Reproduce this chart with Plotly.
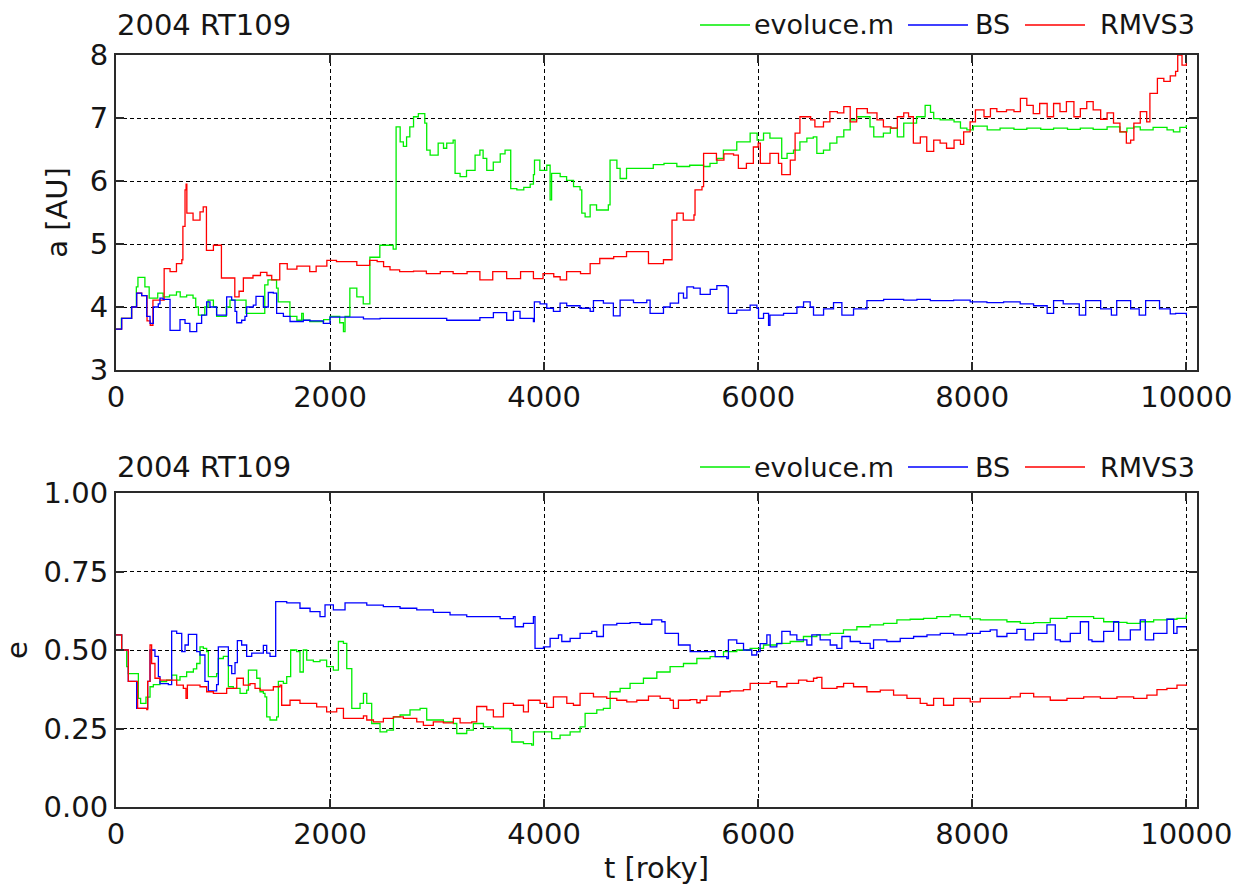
import plotly.graph_objects as go

# ---- semi-major axis a [AU] ----
evol_a_t = [0, 50, 145, 190, 205, 270, 310, 390, 440, 500, 565, 600, 660, 720, 745, 770, 830, 860, 910, 940,
            1030, 1065, 1140, 1215, 1390, 1420, 1500, 1515, 1625, 1690, 1735, 1750, 1810, 1940, 2000, 2090, 2125,
            2140, 2185, 2250, 2310, 2372, 2465, 2590, 2617, 2655, 2685, 2715, 2745, 2780, 2825, 2885, 2903, 2935,
            3010, 3060, 3090, 3150, 3168, 3215, 3275, 3355, 3400, 3430, 3464, 3525, 3590, 3635, 3688, 3745, 3810,
            3870, 3900, 3910, 3960, 4025, 4056, 4070, 4150, 4210, 4275, 4336, 4352, 4383, 4430, 4490, 4600, 4616,
            4680, 4710, 4770, 4900, 5020, 5120, 5240, 5360, 5490, 5550, 5615, 5675, 5800, 5925, 5990, 6050, 6110,
            6220, 6270, 6330, 6390, 6455, 6515, 6548, 6610, 6670, 6735, 6800, 6860, 6920, 7045, 7080, 7170, 7235,
            7300, 7360, 7480, 7560, 7610, 7640, 7700, 7830, 7890, 7950, 8010, 8140, 8260, 8390, 8510, 8640, 8760,
            8890, 9010, 9130, 9260, 9380, 9445, 9510, 9570, 9690, 9820, 9880, 9940, 10000]
evol_a = [3.65, 3.82, 4.0, 4.32, 4.47, 4.32, 4.14, 4.22, 4.16, 4.19, 4.24, 4.16, 4.19, 4.14, 4.0, 3.87, 4.0, 4.11,
          4.0, 3.85, 4.0, 4.11, 4.11, 3.9, 4.35, 4.43, 4.3, 4.08, 3.85, 3.79, 3.9, 3.79, 3.77, 3.8, 3.85, 3.75, 3.61,
          3.85, 4.3, 4.16, 4.05, 4.79, 4.98, 4.92, 6.86, 6.62, 6.55, 6.7, 6.86, 7.02, 7.07, 6.92, 6.49, 6.41, 6.6,
          6.52, 6.6, 6.65, 6.12, 6.07, 6.17, 6.41, 6.49, 6.36, 6.17, 6.3, 6.43, 6.49, 5.88, 5.86, 5.9, 5.95, 6.1,
          6.33, 6.17, 6.25, 5.7, 6.12, 6.07, 6.01, 5.91, 5.86, 5.49, 5.43, 5.62, 5.54, 5.62, 6.33, 6.2, 6.04, 6.2,
          6.2, 6.26, 6.28, 6.23, 6.25, 6.23, 6.28, 6.36, 6.49, 6.62, 6.76, 6.65, 6.76, 6.68, 6.36, 6.44, 6.49, 6.62,
          6.68, 6.7, 6.44, 6.49, 6.6, 6.7, 6.81, 6.97, 7.02, 6.86, 6.7, 6.76, 6.84, 6.7, 6.92, 7.02, 7.2, 7.09,
          6.99, 6.97, 6.94, 6.84, 6.81, 6.87, 6.81, 6.84, 6.82, 6.84, 6.82, 6.84, 6.82, 6.84, 6.82, 6.86, 6.78,
          6.84, 6.86, 6.81, 6.85, 6.81, 6.78, 6.85, 6.89]

bs_a_t = [0, 53, 146, 193, 240, 287, 318, 349, 395, 411, 440, 505, 598, 645, 690, 754, 800, 847, 878, 940, 1034,
          1081, 1112, 1128, 1174, 1205, 1221, 1283, 1308, 1377, 1423, 1470, 1501, 1564, 1626, 1750, 1813, 1937,
          2000, 2125, 2312, 2467, 2780, 3090, 3400, 3526, 3650, 3713, 3775, 3900, 3909, 3962, 4025, 4087, 4149,
          4211, 4336, 4430, 4461, 4554, 4647, 4710, 4835, 4959, 4990, 5115, 5178, 5256, 5302, 5334, 5396, 5458,
          5552, 5614, 5707, 5720, 5800, 5925, 5988, 6003, 6050, 6097, 6110, 6237, 6362, 6424, 6486, 6517, 6611,
          6704, 6782, 6891, 7016, 7172, 7359, 7483, 7608, 7826, 7981, 8137, 8293, 8448, 8573, 8700, 8760, 8850,
          9000, 9060, 9200, 9300, 9350, 9480, 9560, 9620, 9750, 9850, 9900, 10000]
bs_a = [3.65, 3.82, 4.0, 4.22, 4.18, 3.85, 3.74, 4.0, 4.05, 4.14, 4.12, 3.63, 3.8, 3.74, 3.61, 3.74, 3.87, 4.08,
        4.0, 3.87, 4.16, 4.11, 3.93, 3.75, 3.79, 3.85, 4.0, 4.03, 4.17, 4.0, 4.23, 4.22, 3.9, 3.85, 3.77, 3.79,
        3.78, 3.74, 3.84, 3.84, 3.81, 3.82, 3.82, 3.79, 3.83, 3.91, 3.79, 3.93, 3.82, 3.77, 4.08, 4.05, 3.98, 3.93,
        4.06, 4.02, 3.98, 3.93, 4.1, 4.06, 3.86, 4.11, 4.07, 4.11, 3.9, 4.0, 4.06, 4.22, 4.14, 4.32, 4.3, 4.2,
        4.28, 4.34, 4.32, 3.9, 3.95, 4.03, 3.98, 3.82, 3.9, 3.71, 3.87, 3.9, 4.0, 4.08, 4.0, 3.87, 3.97, 4.07,
        3.87, 3.97, 4.1, 4.12, 4.11, 4.12, 4.1, 4.11, 4.08, 4.07, 4.08, 4.05, 4.02, 3.9, 4.1, 4.05, 3.87, 4.1,
        3.97, 3.87, 4.1, 3.97, 3.87, 4.1, 3.97, 3.89, 3.9, 3.87]

rmvs_a_t = [0, 53, 146, 193, 240, 290, 320, 345, 450, 505, 565, 615, 625, 645, 655, 662, 720, 785, 815, 845, 910,
            985, 1110, 1150, 1190, 1280, 1350, 1410, 1455, 1530, 1600, 1690, 1810, 1870, 1970, 2060, 2250, 2370,
            2440, 2500, 2560, 2650, 2780, 2900, 3030, 3150, 3280, 3400, 3520, 3650, 3780, 3900, 3990, 4090, 4150,
            4210, 4340, 4430, 4520, 4650, 4770, 4900, 4975, 5115, 5195, 5240, 5300, 5400, 5410, 5475, 5490, 5610,
            5680, 5770, 5815, 5890, 5955, 6000, 6020, 6110, 6190, 6220, 6300, 6345, 6390, 6490, 6530, 6610, 6670,
            6740, 6800, 6860, 6920, 7020, 7110, 7170, 7240, 7300, 7360, 7405, 7450, 7515, 7575, 7640, 7700, 7760,
            7830, 7890, 7920, 7980, 8030, 8110, 8170, 8230, 8320, 8390, 8450, 8510, 8570, 8630, 8700, 8760, 8820,
            8880, 8950, 9010, 9070, 9130, 9200, 9260, 9320, 9380, 9440, 9480, 9510, 9570, 9630, 9660, 9730, 9790,
            9850, 9900, 9920, 9960, 10000]
rmvs_a = [3.65, 3.82, 4.0, 4.22, 4.18, 3.78, 3.71, 4.11, 4.61, 4.56, 4.69, 4.75, 5.28, 5.86, 5.95, 5.49, 5.38,
          5.51, 5.59, 4.9, 4.98, 4.46, 4.16, 4.25, 4.46, 4.5, 4.55, 4.5, 4.43, 4.69, 4.6, 4.65, 4.56, 4.65, 4.74,
          4.72, 4.66, 4.74, 4.72, 4.64, 4.59, 4.56, 4.57, 4.53, 4.56, 4.53, 4.56, 4.43, 4.56, 4.45, 4.56, 4.45,
          4.53, 4.48, 4.43, 4.56, 4.53, 4.69, 4.77, 4.8, 4.88, 4.88, 4.69, 4.75, 5.38, 5.49, 5.38, 5.46, 5.86,
          5.91, 6.44, 6.33, 6.43, 6.41, 6.2, 6.28, 6.54, 6.6, 6.28, 6.44, 6.28, 6.1, 6.33, 6.76, 7.02, 6.97, 6.86,
          6.94, 7.1, 7.08, 7.18, 6.94, 7.15, 7.08, 6.97, 6.86, 6.84, 7.02, 7.08, 7.02, 6.6, 6.7, 6.47, 6.65, 6.6,
          6.52, 6.65, 6.58, 6.78, 6.94, 7.13, 7.02, 7.15, 7.1, 7.13, 7.1, 7.31, 7.2, 7.07, 7.23, 7.02, 7.23, 7.1,
          7.26, 7.02, 7.15, 7.26, 7.13, 6.98, 7.08, 6.92, 6.78, 6.6, 6.65, 6.92, 7.1, 6.94, 7.39, 7.63, 7.58,
          7.67, 7.74, 8.0, 7.84, 7.87]

# ---- eccentricity e ----
evol_e_t = [0, 53, 100, 115, 209, 230, 280, 318, 349, 411, 473, 520, 567, 598, 660, 723, 754, 785, 816, 847, 863,
            940, 956, 1003, 1050, 1096, 1159, 1221, 1237, 1283, 1315, 1346, 1377, 1392, 1408, 1439, 1501, 1517,
            1564, 1595, 1632, 1688, 1719, 1750, 1782, 1844, 1906, 1968, 2031, 2078, 2125, 2156, 2203, 2280, 2312,
            2343, 2389, 2467, 2530, 2592, 2654, 2747, 2841, 2903, 2997, 3059, 3152, 3184, 3277, 3339, 3433, 3526,
            3620, 3682, 3698, 3807, 3884, 3900, 4025, 4071, 4149, 4243, 4336, 4383, 4492, 4554, 4617, 4710, 4803,
            4928, 5053, 5177, 5302, 5427, 5551, 5676, 5800, 5925, 6050, 6174, 6299, 6423, 6548, 6673, 6797, 6922,
            7046, 7171, 7296, 7420, 7545, 7669, 7794, 7888, 7981, 8075, 8200, 8324, 8449, 8574, 8729, 8885, 9010,
            9134, 9228, 9321, 9446, 9570, 9695, 9819, 9913, 10000]
evol_e = [0.548, 0.5, 0.447, 0.425, 0.346, 0.33, 0.35, 0.383, 0.39, 0.399, 0.404, 0.42, 0.404, 0.415, 0.43, 0.44,
          0.457, 0.51, 0.505, 0.495, 0.415, 0.425, 0.473, 0.48, 0.383, 0.378, 0.362, 0.372, 0.436, 0.436, 0.41,
          0.367, 0.362, 0.351, 0.287, 0.277, 0.287, 0.4, 0.394, 0.415, 0.5, 0.495, 0.43, 0.5, 0.468, 0.463, 0.468,
          0.447, 0.436, 0.527, 0.521, 0.441, 0.314, 0.33, 0.362, 0.33, 0.266, 0.239, 0.245, 0.287, 0.293, 0.309,
          0.314, 0.277, 0.277, 0.271, 0.266, 0.234, 0.245, 0.266, 0.255, 0.25, 0.25, 0.245, 0.207, 0.202, 0.197,
          0.239, 0.239, 0.218, 0.229, 0.239, 0.255, 0.298, 0.309, 0.314, 0.367, 0.378, 0.394, 0.41, 0.43, 0.447,
          0.457, 0.473, 0.479, 0.495, 0.5, 0.505, 0.516, 0.521, 0.527, 0.543, 0.548, 0.553, 0.564, 0.574, 0.58,
          0.585, 0.596, 0.598, 0.601, 0.606, 0.612, 0.606, 0.599, 0.596, 0.596, 0.59, 0.585, 0.587, 0.601, 0.606,
          0.606, 0.601, 0.59, 0.588, 0.585, 0.59, 0.596, 0.598, 0.601, 0.612]

bs_e_t = [0, 53, 115, 193, 296, 318, 364, 396, 411, 489, 520, 567, 614, 645, 676, 754, 785, 831, 863, 940, 956,
          1050, 1081, 1112, 1134, 1174, 1221, 1268, 1377, 1408, 1439, 1492, 1595, 1719, 1813, 1906, 1953, 2031,
          2140, 2343, 2498, 2654, 2810, 2965, 3121, 3277, 3433, 3589, 3713, 3729, 3807, 3900, 3915, 3994, 4056,
          4134, 4165, 4243, 4336, 4445, 4492, 4554, 4679, 4803, 4897, 5006, 5099, 5130, 5240, 5255, 5364, 5489,
          5598, 5707, 5722, 5800, 5863, 5940, 5987, 6018, 6081, 6112, 6174, 6221, 6299, 6361, 6455, 6501, 6579,
          6673, 6735, 6782, 6860, 6953, 7046, 7078, 7202, 7327, 7452, 7577, 7701, 7826, 7950, 8075, 8168, 8231,
          8324, 8417, 8495, 8574, 8698, 8776, 8823, 8916, 9010, 9087, 9119, 9228, 9321, 9368, 9477, 9570, 9617,
          9695, 9819, 9882, 9913, 10000]
bs_e = [0.548, 0.5, 0.4, 0.314, 0.4, 0.5, 0.48, 0.415, 0.393, 0.39, 0.56, 0.553, 0.495, 0.516, 0.55, 0.495, 0.484,
        0.4, 0.37, 0.39, 0.51, 0.45, 0.425, 0.46, 0.53, 0.516, 0.48, 0.49, 0.515, 0.49, 0.48, 0.654, 0.65, 0.633,
        0.622, 0.606, 0.644, 0.628, 0.65, 0.643, 0.638, 0.633, 0.628, 0.62, 0.612, 0.606, 0.606, 0.6, 0.606,
        0.574, 0.585, 0.606, 0.505, 0.51, 0.537, 0.548, 0.527, 0.537, 0.553, 0.559, 0.543, 0.58, 0.585, 0.587,
        0.582, 0.596, 0.59, 0.553, 0.553, 0.516, 0.495, 0.495, 0.479, 0.473, 0.532, 0.521, 0.5, 0.484, 0.495,
        0.52, 0.548, 0.51, 0.52, 0.559, 0.548, 0.532, 0.516, 0.548, 0.532, 0.516, 0.505, 0.543, 0.527, 0.521,
        0.505, 0.532, 0.527, 0.537, 0.543, 0.548, 0.553, 0.548, 0.553, 0.559, 0.564, 0.543, 0.553, 0.566, 0.532,
        0.553, 0.58, 0.532, 0.527, 0.553, 0.59, 0.532, 0.527, 0.559, 0.59, 0.532, 0.564, 0.596, 0.532, 0.553,
        0.598, 0.553, 0.574, 0.574]

rmvs_e_t = [0, 53, 115, 202, 287, 296, 318, 333, 364, 411, 567, 629, 654, 667, 785, 847, 910, 1034, 1128, 1190,
            1252, 1299, 1346, 1470, 1533, 1548, 1626, 1719, 1875, 1968, 2062, 2125, 2312, 2343, 2405, 2498, 2592,
            2685, 2810, 2872, 2965, 3059, 3152, 3215, 3324, 3370, 3464, 3526, 3620, 3713, 3807, 3853, 3962, 4025,
            4087, 4212, 4274, 4336, 4461, 4585, 4679, 4772, 4866, 4975, 5084, 5177, 5208, 5255, 5364, 5427, 5458,
            5520, 5645, 5738, 5863, 5925, 6112, 6174, 6268, 6377, 6455, 6517, 6549, 6595, 6736, 6798, 6891, 7016,
            7141, 7265, 7390, 7514, 7577, 7639, 7732, 7826, 7981, 8075, 8231, 8355, 8449, 8574, 8729, 8885, 9041,
            9197, 9352, 9508, 9632, 9726, 9819, 9913, 10000]
rmvs_e = [0.548, 0.5, 0.4, 0.314, 0.31, 0.4, 0.516, 0.457, 0.41, 0.404, 0.388, 0.378, 0.346, 0.388, 0.383, 0.367,
          0.362, 0.378, 0.41, 0.388, 0.393, 0.378, 0.372, 0.383, 0.388, 0.324, 0.34, 0.33, 0.319, 0.303, 0.314,
          0.282, 0.29, 0.277, 0.271, 0.282, 0.287, 0.282, 0.271, 0.26, 0.271, 0.268, 0.282, 0.268, 0.271, 0.32,
          0.309, 0.287, 0.33, 0.324, 0.303, 0.34, 0.33, 0.317, 0.351, 0.33, 0.324, 0.362, 0.351, 0.346, 0.34,
          0.335, 0.34, 0.353, 0.346, 0.34, 0.314, 0.34, 0.342, 0.332, 0.34, 0.353, 0.367, 0.37, 0.374, 0.394,
          0.399, 0.383, 0.394, 0.404, 0.4, 0.41, 0.413, 0.378, 0.383, 0.394, 0.383, 0.367, 0.372, 0.356, 0.346,
          0.33, 0.324, 0.346, 0.324, 0.346, 0.335, 0.346, 0.346, 0.351, 0.362, 0.351, 0.34, 0.346, 0.351, 0.346,
          0.351, 0.346, 0.356, 0.374, 0.378, 0.388, 0.385]

SERIES = [("evoluce.m", "#00ee00"), ("BS", "#0000ff"), ("RMVS3", "#ff0000")]
OBJECT_NAME = "2004 RT109"
x_ticks = [0, 2000, 4000, 6000, 8000, 10000]
x_tick_labels = ["0", "2000", "4000", "6000", "8000", "10000"]
a_ticks = [3, 4, 5, 6, 7, 8]
e_ticks = [0.0, 0.25, 0.5, 0.75, 1.0]

# ---- figure geometry (pixels) ----
W, H = 1246, 886
ML, MR, MT, MB = 116, 49, 55, 79
PW, PH = W - ML - MR, H - MT - MB
TOP_Y0, TOP_Y1 = 55, 370      # top panel, pixel rows
BOT_Y0, BOT_Y1 = 493, 807     # bottom panel, pixel rows


def px_x(px):
    return (px - ML) / PW


def px_y(py):
    return (H - MB - py) / PH


FONT = "DejaVu Sans"
TXT = "#151515"
FS = 29
LEG_FS = 27

fig = go.Figure()


def add_line(t, v, color, ax):
    fig.add_trace(go.Scatter(x=t, y=v, mode="lines", line=dict(color=color, width=1.3, shape="hv"),
                             xaxis="x" if ax == 1 else "x2", yaxis="y" if ax == 1 else "y2",
                             showlegend=False, hoverinfo="skip"))


# drawing order: later traces sit on top
add_line(evol_a_t, evol_a, SERIES[0][1], 1)
add_line(rmvs_a_t, rmvs_a, SERIES[2][1], 1)
add_line(bs_a_t, bs_a, SERIES[1][1], 1)
add_line(evol_e_t, evol_e, SERIES[0][1], 2)
add_line(bs_e_t, bs_e, SERIES[1][1], 2)
add_line(rmvs_e_t, rmvs_e, SERIES[2][1], 2)

axis_common = dict(showline=True, linecolor="#2a2a2a", linewidth=2, mirror="allticks",
                   ticks="inside", ticklen=8, tickwidth=1.5, tickcolor="#2a2a2a",
                   showgrid=True, gridcolor="#000000", gridwidth=1, griddash="4px,3px",
                   zeroline=False, automargin=False,
                   tickfont=dict(family=FONT, size=FS, color=TXT))

fig.update_layout(
    width=W, height=H, margin=dict(l=ML, r=MR, t=MT, b=MB),
    paper_bgcolor="white", plot_bgcolor="white",
    font=dict(family=FONT, size=FS, color=TXT),
    xaxis=dict(domain=[0, 1], anchor="y", range=[0, 10100], tickvals=x_ticks, ticktext=x_tick_labels,
               **axis_common),
    yaxis=dict(domain=[px_y(TOP_Y1), px_y(TOP_Y0)], anchor="x", range=[3, 8], tickvals=a_ticks,
               title=dict(text="a [AU]", font=dict(family=FONT, size=FS, color=TXT), standoff=14),
               **axis_common),
    xaxis2=dict(domain=[0, 1], anchor="y2", range=[0, 10100], tickvals=x_ticks, ticktext=x_tick_labels,
                title=dict(text="t [roky]", font=dict(family=FONT, size=FS, color=TXT), standoff=8),
                **axis_common),
    yaxis2=dict(domain=[px_y(BOT_Y1), px_y(BOT_Y0)], anchor="x2", range=[0, 1], tickvals=e_ticks,
                tickformat=".2f",
                title=dict(text="e", font=dict(family=FONT, size=FS, color=TXT), standoff=10),
                **axis_common),
)

# panel headings and legends (legend text right edges in pixels)
LEG_LINE = [(700, 750), (908, 968), (1025, 1085)]
LEG_TEXT_RIGHT = [896, 1012, 1197]
for head_y in (25, 467):
    yp = px_y(head_y)
    fig.add_annotation(text=OBJECT_NAME, xref="paper", yref="paper", x=px_x(115), y=yp,
                       xanchor="left", yanchor="middle", showarrow=False,
                       font=dict(family=FONT, size=FS, color=TXT))
    for (name, color), (lx0, lx1), tx in zip(SERIES, LEG_LINE, LEG_TEXT_RIGHT):
        fig.add_shape(type="line", xref="paper", yref="paper", x0=px_x(lx0), x1=px_x(lx1), y0=yp, y1=yp,
                      line=dict(color=color, width=1.3))
        fig.add_annotation(text=name, xref="paper", yref="paper", x=px_x(tx), y=yp,
                           xanchor="right", yanchor="middle", showarrow=False,
                           font=dict(family=FONT, size=LEG_FS, color=TXT))

fig.write_html("out.html")
